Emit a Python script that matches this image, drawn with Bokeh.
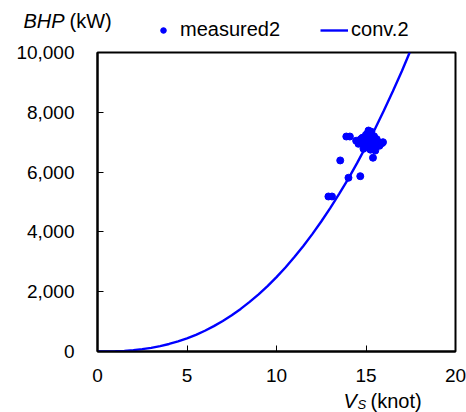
from bokeh.plotting import figure
from bokeh.layouts import column
from bokeh.models import Range1d, Legend, LegendItem, FixedTicker, NumeralTickFormatter
from bokeh.core.properties import value
from bokeh.embed import file_html
from bokeh.resources import INLINE

# measured2 (V_S knot, BHP kW)
meas_v = [12.9, 13.1, 13.56, 13.9, 14.1, 14.02, 14.68, 15.39,
          14.45, 14.58, 14.7, 14.8, 14.86, 14.9, 15.0, 15.0, 15.05, 15.1, 15.1, 15.14,
          15.2, 15.2, 15.25, 15.3, 15.3, 15.35, 15.4, 15.4, 15.45, 15.5, 15.52, 15.6,
          15.6, 15.7, 15.75, 15.8, 15.89, 15.95, 15.0, 15.2, 15.3, 14.95, 15.15, 15.45]
meas_p = [5184, 5184, 6390, 7190, 7190, 5810, 5863, 6480,
          7050, 6946, 7100, 7150, 6780, 6950, 7250, 6850, 7050, 7300, 6950, 7390,
          7200, 7000, 6750, 7350, 6900, 7100, 7050, 6800, 7200, 7000, 6720, 6950,
          7100, 7000, 6880, 6950, 6967, 7000, 7150, 7100, 7250, 7000, 6820, 6900]

# conv.2 curve
conv_v = [0, 0.5, 1, 1.5, 2, 2.5, 3, 3.5, 4, 4.5, 5, 5.5, 6, 6.5, 7, 7.5, 8, 8.5, 9,
          9.5, 10, 10.5, 11, 11.5, 12, 12.5, 13, 13.5, 14, 14.5, 15, 15.5, 16, 16.5,
          17, 17.44]
conv_p = [0, 1, 8, 22, 45, 78, 123, 180, 252, 338, 440, 558, 694, 848, 1020, 1212,
          1424, 1658, 1912, 2189, 2489, 2811, 3159, 3530, 3926, 4348, 4794, 5270,
          5765, 6301, 6859, 7444, 8058, 8704, 9372, 10000]

x_ticks = [0, 5, 10, 15, 20]
y_ticks = [0, 2000, 4000, 6000, 8000, 10000]

series_names = ["measured2", "conv.2"]
y_title = ["BHP", "(kW)"]
x_title = ["V", "S", "(knot)"]

FONT = "Liberation Sans"
FS = "19px"
FS_T = "20px"
BLUE = "#0000FF"
LW = 2.4
W = 466
HEAD_H = 41
MAIN_H = 349
FOOT_H = 412 - HEAD_H - MAIN_H


def blank(h):
    f = figure(width=W, height=h, output_backend="svg", toolbar_location=None,
               x_range=Range1d(0, W), y_range=Range1d(h, 0),
               x_axis_type=None, y_axis_type=None, frame_align=False,
               min_border=0, min_border_left=0, min_border_right=0,
               min_border_top=0, min_border_bottom=0)
    f.xgrid.visible = False
    f.ygrid.visible = False
    f.outline_line_color = None
    return f


def txt(f, x, y, s, style="normal", size=FS_T):
    f.text(x=[x], y=[y], text=[s], text_font=value(FONT), text_font_size=size,
           text_font_style=style, text_color="#000000", text_baseline="middle",
           text_align="left")


# ---- header: y-axis title and legend. The legend's series renderers use an
# extra range so that they fall outside the header frame; only the keys show.
head = blank(HEAD_H)
head.extra_x_ranges = {"off": Range1d(1000, 2000)}
txt(head, 23, 20, y_title[0], "italic")
txt(head, 69, 20, y_title[1])
k_pts = head.scatter(meas_v, meas_p, size=7, fill_color=BLUE, line_color=BLUE,
                     x_range_name="off")
k_line = head.line(conv_v, conv_p, line_color=BLUE, line_width=LW, x_range_name="off")
legend = Legend(items=[LegendItem(label=series_names[0], renderers=[k_pts]),
                       LegendItem(label=series_names[1], renderers=[k_line])],
                orientation="horizontal", location=(149, 0),
                border_line_color=None, background_fill_alpha=0,
                label_text_font=FONT, label_text_font_size=FS_T,
                label_text_color="#000000",
                glyph_width=28, glyph_height=14, label_height=14, label_standoff=3,
                spacing=40, padding=0, margin=0)
head.add_layout(legend, "center")

# ---- main plot
p = figure(width=W, height=MAIN_H, output_backend="svg", toolbar_location=None,
           x_range=Range1d(0, 20), y_range=Range1d(0, 10000), frame_align=False,
           min_border_left=97, min_border_right=11, min_border_top=11, min_border_bottom=39)
p.xgrid.visible = False
p.ygrid.visible = False
p.outline_line_color = "#000000"
p.outline_line_width = 2
p.outline_line_alpha = 1

for ax in (p.xaxis[0], p.yaxis[0]):
    ax.axis_line_color = "#000000"
    ax.axis_line_width = 2
    ax.major_tick_line_color = "#000000"
    ax.major_tick_line_width = 1
    ax.major_tick_in = 6
    ax.major_tick_out = 0
    ax.minor_tick_line_color = None
    ax.major_label_text_font = FONT
    ax.major_label_text_font_size = FS
    ax.major_label_text_color = "#000000"

p.xaxis[0].ticker = FixedTicker(ticks=x_ticks)
p.yaxis[0].ticker = FixedTicker(ticks=y_ticks)
p.yaxis[0].formatter = NumeralTickFormatter(format="0,0")
p.xaxis[0].major_label_standoff = 17
p.yaxis[0].major_label_standoff = 23

p.line(conv_v, conv_p, line_color=BLUE, line_width=LW)
p.scatter(meas_v, meas_p, size=7, fill_color=BLUE, line_color=BLUE)

# ---- footer: x-axis title
foot = blank(FOOT_H)
txt(foot, 343, 10, x_title[0], "italic")
txt(foot, 357, 14, x_title[1], "italic", size="13px")
txt(foot, 370, 10, x_title[2])

layout = column(head, p, foot, spacing=0)
open("out.html", "w").write(file_html(layout, INLINE))
